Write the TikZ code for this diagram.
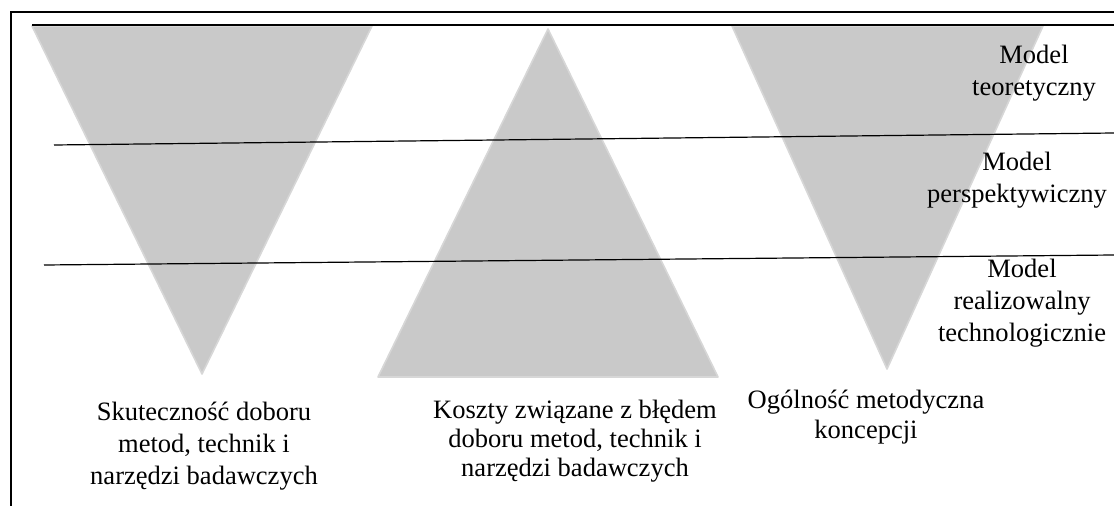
\documentclass[tikz,border=0pt]{standalone}
\usepackage{fontspec}
\setmainfont{Liberation Serif}
\definecolor{wedge}{RGB}{201,201,201}
\definecolor{wedgeedge}{RGB}{215,215,215}
\tikzset{
  wedgeshape/.style={fill=wedge, draw=wedgeedge, line width=1.2pt, line join=round},
  rule/.style={draw=black, line width=0.9pt},
  framerule/.style={draw=black, line width=1.4pt},
  label/.style={align=center, inner sep=0pt, font=\fontsize{19.9}{24}\selectfont},
}
\begin{document}
\begin{tikzpicture}[x=0.75pt, y=-0.75pt]
  \useasboundingbox (0,0) rectangle (1114,506);

  % grey wedges: two pointing down, one pointing up
  \path[wedgeshape] (32,26) -- (372,26) -- (202,374) -- cycle;
  \path[wedgeshape] (548,29) -- (718,377) -- (378,377) -- cycle;
  \path[wedgeshape] (732,26) -- (1043,26) -- (887,369) -- cycle;

  % frame and level rules
  \draw[framerule] (1114,12) -- (11,12) -- (11,506);
  \draw[rule] (32,25) -- (1114,25);
  \draw[rule] (54,145) -- (1114,133);
  \draw[rule] (44,265) -- (1114,255);

  % level names
  \node[label] (lvlA) at (1034,73) {Model\\teoretyczny};
  \node[label] (lvlB) at (1017,180) {Model\\perspektywiczny};
  \node[label] (lvlC) at (1022,303) {Model\\realizowalny\\technologicznie};

  % captions under the wedges
  \node[label] (capA) at (204,446) {Skuteczność doboru\\metod, technik i\\narzędzi badawczych};
  \node[label, font=\fontsize{19.9}{21.8}\selectfont] (capB) at (575,441) {Koszty związane z błędem\\doboru metod, technik i\\narzędzi badawczych};
  \node[label, font=\fontsize{19.9}{23}\selectfont] (capC) at (866,417) {Ogólność metodyczna\\koncepcji};
\end{tikzpicture}
\end{document}
